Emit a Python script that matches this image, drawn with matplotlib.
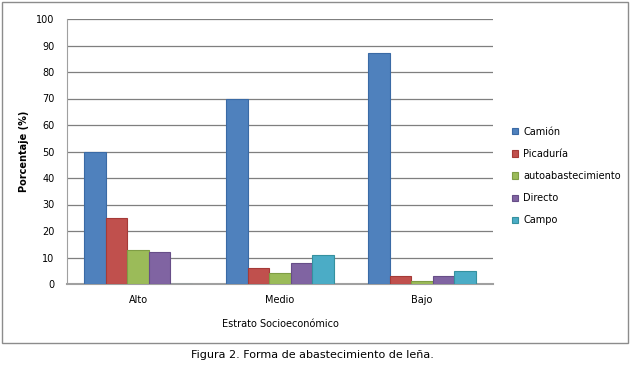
import matplotlib
matplotlib.use("Agg")
import matplotlib.pyplot as plt
from matplotlib.patches import Rectangle
import numpy as np

categories = ["Alto", "Medio", "Bajo"]
series_names = ["Camión", "Picaduría", "autoabastecimiento", "Directo", "Campo"]
camion = [50, 70, 87]
picaduria = [25, 6, 3]
autoabast = [13, 4, 1]
directo = [12, 8, 3]
campo = [0, 11, 5]
colors = ["#4F81BD", "#C0504D", "#9BBB59", "#8064A2", "#4BACC6"]
edge_colors = ["#3A6AA5", "#A53A37", "#7F9D45", "#674E88", "#35919F"]

W, H = 632, 367
fig = plt.figure(figsize=(W/100, H/100), dpi=100)
fig.patch.set_facecolor("white")

# outer chart frame
fig.patches.append(Rectangle((2/W, 1-343/H), 626/W, 341/H, transform=fig.transFigure,
                             fill=False, edgecolor="#8C8C8C", linewidth=1.0))

ax = fig.add_axes([67/W, 1-284/H, (493-67)/W, (284-19)/H])
x = np.arange(len(categories))
bw = 0.152
data = [camion, picaduria, autoabast, directo, campo]
for i, (name, vals) in enumerate(zip(series_names, data)):
    ax.bar(x + (i - 2) * bw, vals, bw, color=colors[i], edgecolor=edge_colors[i],
           linewidth=0.8, label=name, zorder=3)

ax.set_xlim(-0.5, 2.5)
ax.set_ylim(0, 100)
ax.set_yticks(range(0, 101, 10))
ax.yaxis.grid(True, color="#7F7F7F", linewidth=0.9, zorder=0)
ax.set_xticks(x)
ax.set_xticklabels(categories)
ax.tick_params(axis="both", labelsize=7, length=0, colors="black")
ax.tick_params(axis="x", pad=8)
ax.tick_params(axis="y", pad=9)
for s in ["top", "right"]:
    ax.spines[s].set_visible(False)
ax.spines["left"].set_color("#A0A0A0")
ax.spines["bottom"].set_color("#A0A0A0")
ax.spines["bottom"].set_linewidth(1.5)
ax.set_ylabel("Porcentaje (%)", fontsize=7, fontweight="bold", labelpad=5)
ax.set_xlabel("Estrato Socioeconómico", fontsize=7, labelpad=10)

leg = ax.legend(loc="center left", bbox_to_anchor=(503/W, 1-176/H), bbox_transform=fig.transFigure,
                frameon=False, fontsize=7, handlelength=0.6, handleheight=0.6,
                labelspacing=1.25, handletextpad=0.6)

fig.text(312/W, 1-355/H, "Figura 2. Forma de abastecimiento de leña.", ha="center", va="center",
         fontsize=8)

fig.savefig("out.png", dpi=100)
